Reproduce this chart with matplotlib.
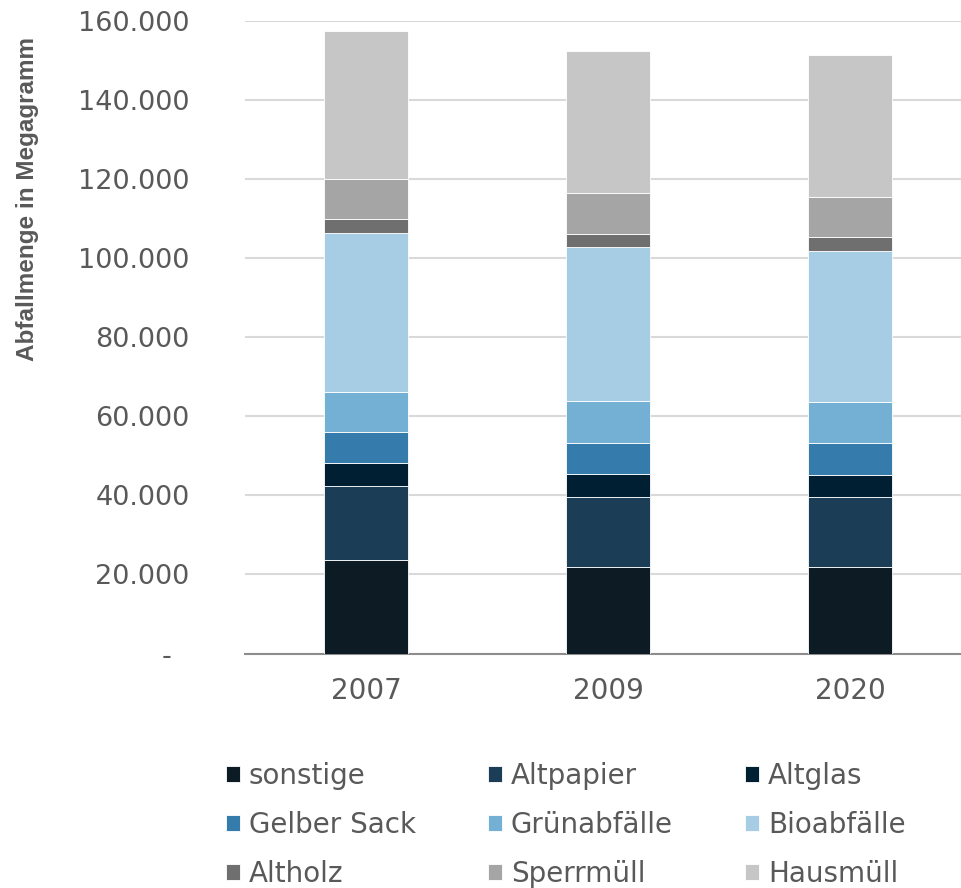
import matplotlib
matplotlib.use("Agg")
import matplotlib.pyplot as plt
from matplotlib.ticker import FuncFormatter
import numpy as np

years = ["2007", "2009", "2020"]
categories = ["sonstige", "Altpapier", "Altglas", "Gelber Sack", "Grünabfälle",
              "Bioabfälle", "Altholz", "Sperrmüll", "Hausmüll"]
sonstige = [23600, 21900, 21800]
altpapier = [18800, 17700, 17700]
altglas = [5800, 5700, 5700]
gelber_sack = [7900, 8000, 8100]
gruenabfaelle = [10100, 10500, 10200]
bioabfaelle = [40000, 38900, 38300]
altholz = [3600, 3300, 3400]
sperrmuell = [10200, 10400, 10300]
hausmuell = [37400, 36000, 35800]
series = [sonstige, altpapier, altglas, gelber_sack, gruenabfaelle,
          bioabfaelle, altholz, sperrmuell, hausmuell]
colors = ["#0d1b24", "#1b3d56", "#001f33", "#357bab", "#74afd4",
          "#a6cde4", "#6f6f6f", "#a5a5a5", "#c6c6c6"]

plt.rcParams['font.family'] = ['DejaVu Sans']
txt = "#595959"

fig = plt.figure(figsize=(9.61, 8.88), dpi=100)
ax = fig.add_axes([245/961, 1-653.5/888, (971-245)/961, (653.5-20.7)/888])

x = np.arange(len(years))
bottom = np.zeros(len(years))
handles = []
for name, vals, c in zip(categories, series, colors):
    h = ax.bar(x, vals, 0.35, bottom=bottom, color=c, edgecolor="white",
               linewidth=0.6, label=name, zorder=3)
    handles.append(h)
    bottom += np.array(vals)

ax.set_xlim(-0.5, 2.5)
ax.set_ylim(0, 160000)
ax.set_yticks(np.arange(0, 160001, 20000))
ax.yaxis.set_major_formatter(FuncFormatter(
    lambda v, p: "-  " if v == 0 else f"{int(v):,}".replace(",", ".")))
ax.set_xticks(x)
ax.set_xticklabels(years)
ax.tick_params(axis='y', length=0, pad=40, labelsize=19.5, labelcolor=txt)
ax.tick_params(axis='x', length=0, pad=17, labelsize=20, labelcolor=txt)
ax.grid(axis='y', color="#d9d9d9", linewidth=1.5, zorder=0)
ax.set_axisbelow(True)
for s in ["top", "right", "left"]:
    ax.spines[s].set_visible(False)
ax.spines["bottom"].set_color("#8c8c8c")
ax.spines["bottom"].set_linewidth(1.5)

fig.text(28/961, 1-199/888, "Abfallmenge in Megagramm", rotation=90,
         fontsize=17.5, fontweight='bold', color=txt, ha='center', va='center',
         family=['Liberation Sans', 'DejaVu Sans'])

order = [0, 3, 6, 1, 4, 7, 2, 5, 8]
leg = fig.legend([handles[i] for i in order], [categories[i] for i in order],
                 ncol=3, loc='upper left', bbox_to_anchor=(226/961, 1-762/888),
                 frameon=False, fontsize=20, handlelength=0.5, handleheight=0.5,
                 handletextpad=0.32, columnspacing=2.6, labelspacing=0.75,
                 borderaxespad=0, borderpad=0)
for t in leg.get_texts():
    t.set_color(txt)

fig.savefig("out.png", dpi=100)
